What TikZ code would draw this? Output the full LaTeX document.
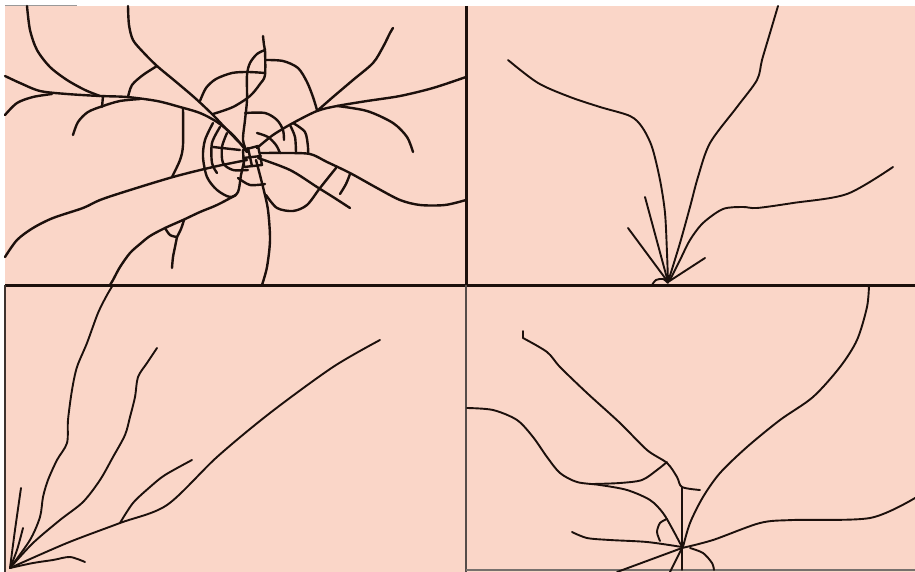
\documentclass[tikz,border=0pt]{standalone}
\usepackage{tikz}
\usepackage{xcolor}
\definecolor{glass}{RGB}{250,214,200}
\definecolor{ink}{RGB}{28,16,12}

\begin{document}
\begin{tikzpicture}[x=1pt,y=-1pt,
  crack/.style={ink,line width=2.4pt,line cap=round,line join=round},
  finecrack/.style={ink,line width=1.9pt,line cap=round,line join=round},
  frame/.style={ink,line width=3pt}]
\useasboundingbox (0,0) rectangle (915,572);
\fill[white] (0,0) rectangle (915,572);
\fill[glass] (5,6) rectangle (915,572);
\draw[gray!80,line width=1pt] (5,6) -- (77,6);
\draw[frame] (5,285) -- (915,285);
\draw[frame] (466,6) -- (466,285);
\draw[ink!75,line width=1.1pt] (466,285) -- (466,572);
\draw[ink!85,line width=1.2pt] (5,285) -- (5,572);
\draw[ink!60,line width=1.2pt] (466,570) -- (915,570);
\draw[crack] plot[smooth] coordinates {(27,6) (30,30) (37,50) (50,67) (67,80) (85,90) (100,96)};
\draw[crack] plot[smooth] coordinates {(5,76) (20,83) (40,91) (67,94) (100,96) (127,97) (157,101) (180,107) (200,113) (217,122) (233,135) (247,152)};
\draw[crack] plot[smooth] coordinates {(5,115) (17,103) (33,97) (52,94)};
\draw[crack] plot[smooth] coordinates {(73,135) (78,122) (88,112) (103,106) (120,101) (140,99)};
\draw[crack] (103,96) -- (102,107);
\draw[crack] plot[smooth] coordinates {(128,6) (129,25) (133,40) (143,52) (157,66) (175,81) (195,98) (213,115) (230,133) (247,150)};
\draw[crack] plot[smooth] coordinates {(157,66) (143,75) (132,85) (128,97)};
\draw[crack] plot[smooth] coordinates {(183,108) (183,145) (180,160) (172,177)};
\draw[crack] plot[smooth] coordinates {(200,101) (206,88) (216,79) (232,73) (248,72) (265,73)};
\draw[crack] plot[smooth] coordinates {(263,36) (264,45) (265,50)};
\draw[crack] plot[smooth] coordinates {(265,50) (257,54) (250,63) (247,75) (247,100) (245,120) (243,140) (247,152)};
\draw[crack] plot[smooth] coordinates {(265,50) (265,75) (260,84) (250,96) (233,107) (213,114)};
\draw[crack] plot[smooth] coordinates {(265,60) (283,61) (298,68) (307,82) (313,97) (317,110)};
\draw[crack] plot[smooth] coordinates {(257,148) (273,135) (293,123) (317,111) (337,106) (367,101) (400,96) (433,88) (466,77)};
\draw[crack] plot[smooth] coordinates {(317,111) (333,97) (353,80) (373,63) (383,47) (390,33) (393,28)};
\draw[crack] plot[smooth] coordinates {(337,106) (367,111) (393,123) (407,137) (413,152)};
\draw[crack] plot[smooth] coordinates {(260,153) (285,153) (310,154) (327,162) (350,173) (377,188) (400,200) (420,205) (445,205) (466,200)};
\draw[crack] plot[smooth] coordinates {(290,125) (295,137) (296,153)};
\draw[crack] plot[smooth] coordinates {(293,123) (305,132) (308,147) (308,153)};
\draw[crack] plot[smooth] coordinates {(258,158) (290,170) (317,187) (333,197) (350,208)};
\draw[crack] plot[smooth] coordinates {(266,195) (277,208) (293,211) (307,205) (320,188) (336,168)};
\draw[crack] plot[smooth] coordinates {(350,174) (346,184) (340,194)};
\draw[crack] plot[smooth] coordinates {(256,160) (263,187) (268,210) (270,240) (267,267) (262,285)};
\draw[crack] plot[smooth] coordinates {(247,160) (213,167) (173,177) (127,191) (100,200) (83,208) (53,218) (33,228) (17,240) (5,257)};
\draw[crack] plot[smooth] coordinates {(236,195) (217,205) (200,212) (183,220) (165,228) (150,236) (140,244) (130,253) (120,267) (113,280) (110,285)};
\draw[crack] plot[smooth] coordinates {(165,228) (170,235) (177,237)};
\draw[crack] plot[smooth] coordinates {(177,237) (181,229) (184,220)};
\draw[crack] plot[smooth] coordinates {(177,237) (175,247) (173,257) (172,268)};
\draw[crack] plot[smooth] coordinates {(213,123) (205,140) (203,157) (207,177) (217,190) (230,197) (238,192) (241,175) (244,162)};
\draw[crack] plot[smooth] coordinates {(220,127) (212,143) (212,163) (217,173)};
\draw[crack] plot[smooth] coordinates {(227,133) (222,147) (223,163) (233,170) (248,170)};
\draw[crack] (213,147) -- (240,150);
\draw[crack] (243,150) -- (258,146) -- (262,165) -- (244,167) -- cycle;
\draw[crack] (248,148) -- (252,166);
\draw[crack] (243,158) -- (261,156);
\draw[crack] plot[smooth] coordinates {(245,113) (265,113) (277,120) (283,130) (284,140)};
\draw[crack] plot[smooth] coordinates {(257,133) (268,137) (276,145) (280,153)};
\draw[crack] plot[smooth] coordinates {(238,178) (250,185) (265,184)};
\draw[finecrack] plot[smooth] coordinates {(508,60) (538,83) (570,97) (600,107) (630,116) (642,127) (652,147) (660,180) (665,213) (667,253) (668,282)};
\draw[finecrack] plot[smooth] coordinates {(778,6) (770,33) (762,60) (757,80) (737,107) (710,143) (698,177) (690,207) (680,243) (668,282)};
\draw[finecrack] plot[smooth] coordinates {(893,167) (847,194) (793,203) (757,208) (743,207) (723,209) (703,223) (690,240) (680,260) (670,280)};
\draw[finecrack] (645,197) -- (668,282);
\draw[finecrack] (628,228) -- (668,282);
\draw[finecrack] (705,258) -- (668,282);
\draw[finecrack] plot[smooth] coordinates {(652,285) (656,280) (663,279) (668,283)};
\draw[finecrack] plot[smooth] coordinates {(113,285) (107,295) (98,313) (87,343) (77,367) (72,390) (68,420) (67,443) (57,460) (48,480) (43,497) (40,517) (30,540) (10,568)};
\draw[finecrack] plot[smooth] coordinates {(157,348) (147,363) (138,377) (135,397) (130,417) (125,435) (113,457) (100,480) (83,502) (60,520) (33,543) (10,568)};
\draw[finecrack] plot[smooth] coordinates {(380,340) (333,367) (270,413) (217,457) (167,505) (120,523) (67,543) (10,568)};
\draw[finecrack] plot[smooth] coordinates {(192,460) (165,475) (150,487) (133,503) (120,523)};
\draw[finecrack] plot[smooth] coordinates {(85,562) (70,557) (53,560) (33,563) (10,568)};
\draw[finecrack] plot[smooth] coordinates {(21,488) (15,530) (10,568)};
\draw[finecrack] plot[smooth] coordinates {(23,528) (17,550) (10,568)};
\draw[finecrack] plot[smooth] coordinates {(869,285) (867,307) (857,340) (840,367) (813,397) (780,420) (747,447) (720,473) (703,497) (690,523) (683,547)};
\draw[finecrack] (523,331) -- (523,338);
\draw[finecrack] plot[smooth] coordinates {(523,338) (547,352) (560,367) (587,393) (620,423) (647,450) (667,463) (677,477) (682,487) (700,490)};
\draw[finecrack] (682,487) -- (682,570);
\draw[finecrack] plot[smooth] coordinates {(467,408) (493,410) (517,420) (533,437) (547,457) (560,473) (577,482) (600,485) (627,490) (650,500) (663,513) (673,530) (682,547)};
\draw[finecrack] plot[smooth] coordinates {(593,484) (620,483) (642,480) (657,470) (667,462)};
\draw[finecrack] plot[smooth] coordinates {(572,532) (587,538) (610,540) (647,542) (682,547)};
\draw[finecrack] plot[smooth] coordinates {(660,541) (657,532) (660,523) (667,519)};
\draw[finecrack] plot[smooth] coordinates {(682,548) (713,540) (760,523) (793,520) (870,518) (915,498)};
\draw[finecrack] (682,548) -- (617,572);
\draw[finecrack] (682,548) -- (670,572);
\draw[finecrack] plot[smooth] coordinates {(690,548) (703,553) (712,563) (714,570)};
\end{tikzpicture}
\end{document}
